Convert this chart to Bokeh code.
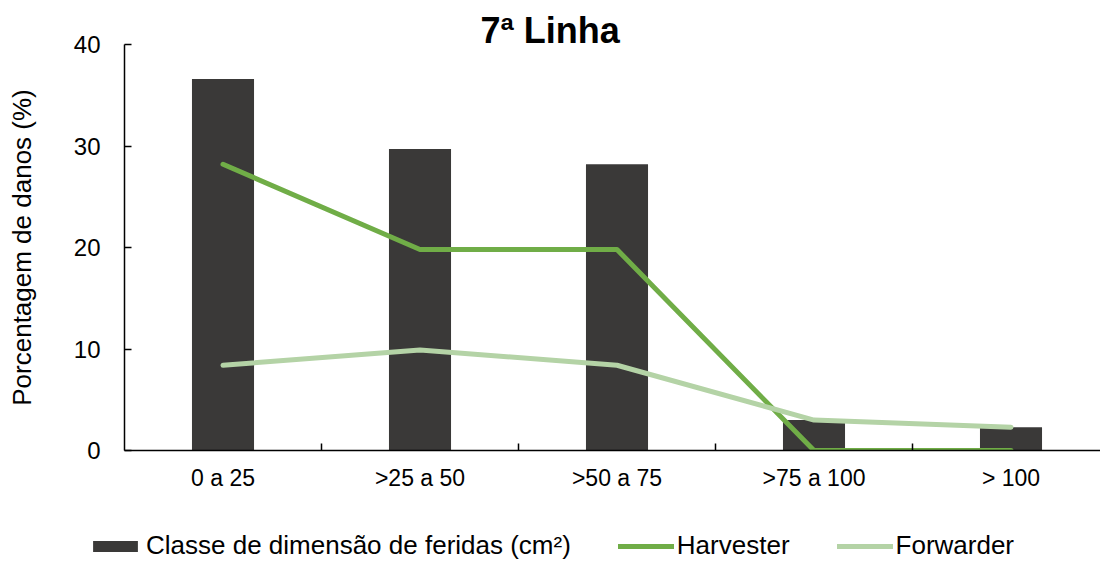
from bokeh.plotting import figure
from bokeh.models import (Range1d, FixedTicker, Legend, LegendItem, ColumnDataSource)
from bokeh.embed import file_html
from bokeh.resources import INLINE

# Wound size classes and damage percentages
categories = ["0 a 25", ">25 a 50", ">50 a 75", ">75 a 100", "> 100"]
classe = [36.6, 29.7, 28.2, 3.0, 2.3]
harvester = [28.2, 19.8, 19.8, 0.0, 0.0]
forwarder = [8.4, 9.9, 8.4, 3.0, 2.3]
y_ticks = [0, 10, 20, 30, 40]

FONT = "Liberation Sans"
BAR_COLOR = "#3A3938"
HARV_COLOR = "#70AD47"
FORW_COLOR = "#B4D3A6"
LINE_W = 5
xs = [i + 0.5 for i in range(len(categories))]
src = ColumnDataSource(dict(x=xs, classe=classe, harvester=harvester, forwarder=forwarder))

W = 1100
MAIN_H, LEG_H = 530, 31
LEFT, TOP = 124, 44
BOTTOM = MAIN_H - 450
cat_px = 197.0

p = figure(width=W, height=MAIN_H, output_backend="svg", toolbar_location=None,
           x_range=Range1d(0, (W - LEFT) / cat_px), y_range=Range1d(0, 40),
           min_border_left=LEFT, min_border_right=0, min_border_top=TOP,
           min_border_bottom=BOTTOM)
p.outline_line_color = None
p.grid.visible = False
p.background_fill_color = "white"
p.border_fill_color = "white"

p.vbar(x="x", top="classe", width=0.315, source=src,
       fill_color=BAR_COLOR, line_color=None)
p.line(x="x", y="harvester", source=src, line_color=HARV_COLOR,
       line_width=LINE_W, line_cap="round", line_join="round")
p.line(x="x", y="forwarder", source=src, line_color=FORW_COLOR,
       line_width=LINE_W, line_cap="round", line_join="round")

# x axis: labels at class centres, tick marks at class boundaries
xa = p.xaxis[0]
xa.ticker = FixedTicker(ticks=xs, minor_ticks=[1, 2, 3, 4])
xa.major_label_overrides = {x: c for x, c in zip(xs, categories)}
xa.major_tick_in = 0
xa.major_tick_out = 0
xa.minor_tick_in = 7
xa.minor_tick_out = 0
xa.minor_tick_line_color = "black"
xa.minor_tick_line_width = 1.5
xa.axis_line_color = "black"
xa.axis_line_width = 1.5
xa.major_label_text_font = FONT
xa.major_label_text_font_size = "23px"
xa.major_label_text_color = "black"
xa.major_label_standoff = 14

ya = p.yaxis[0]
ya.ticker = FixedTicker(ticks=y_ticks)
ya.minor_tick_line_color = None
ya.major_tick_in = 7
ya.major_tick_out = 0
ya.major_tick_line_color = "black"
ya.major_tick_line_width = 1.5
ya.axis_line_color = "black"
ya.axis_line_width = 1.5
ya.major_label_text_font = FONT
ya.major_label_text_font_size = "24px"
ya.major_label_text_color = "black"
ya.major_label_standoff = 24
ya.axis_label = "Porcentagem de danos (%)"
ya.axis_label_text_font = FONT
ya.axis_label_text_font_size = "26px"
ya.axis_label_text_font_style = "normal"
ya.axis_label_text_color = "black"
ya.axis_label_standoff = 34

p.title.text = "7ª Linha"
p.title.text_font = FONT
p.title.text_font_size = "36px"
p.title.text_font_style = "bold"
p.title.text_color = "black"
p.title.align = "left"
p.title.offset = 356
p.title.standoff = -13

# legend strip underneath the chart; its keys come from renderers with no visible points
leg = figure(width=W, height=LEG_H, output_backend="svg", toolbar_location=None,
             x_range=Range1d(0, 1), y_range=Range1d(0, 1),
             x_axis_type=None, y_axis_type=None,
             min_border_left=0, min_border_right=0, min_border_top=0, min_border_bottom=0)
leg.outline_line_color = None
leg.grid.visible = False
leg.border_fill_color = "white"
key_src = ColumnDataSource(dict(x=[float("nan")], y=[float("nan")]))
k_bar = leg.vbar(x="x", top="y", width=0.3, source=key_src, fill_color=BAR_COLOR, line_color=None)
k_h = leg.line(x="x", y="y", source=key_src, line_color=HARV_COLOR, line_width=LINE_W, line_cap="round")
k_f = leg.line(x="x", y="y", source=key_src, line_color=FORW_COLOR, line_width=LINE_W, line_cap="round")

legend = Legend(items=[
    LegendItem(label="Classe de dimensão de feridas (cm²)", renderers=[k_bar]),
    LegendItem(label="Harvester", renderers=[k_h]),
    LegendItem(label="Forwarder", renderers=[k_f]),
], orientation="horizontal", location=(87, 0))
legend.label_text_font = FONT
legend.label_text_font_size = "26px"
legend.label_text_color = "black"
legend.glyph_width = 56
legend.glyph_height = 14
legend.label_height = 24
legend.label_standoff = 3
legend.spacing = 47
legend.padding = 0
legend.margin = 0
legend.border_line_color = None
legend.background_fill_alpha = 0
leg.add_layout(legend, "center")

open("out.html", "w").write(file_html([p, leg], INLINE))
